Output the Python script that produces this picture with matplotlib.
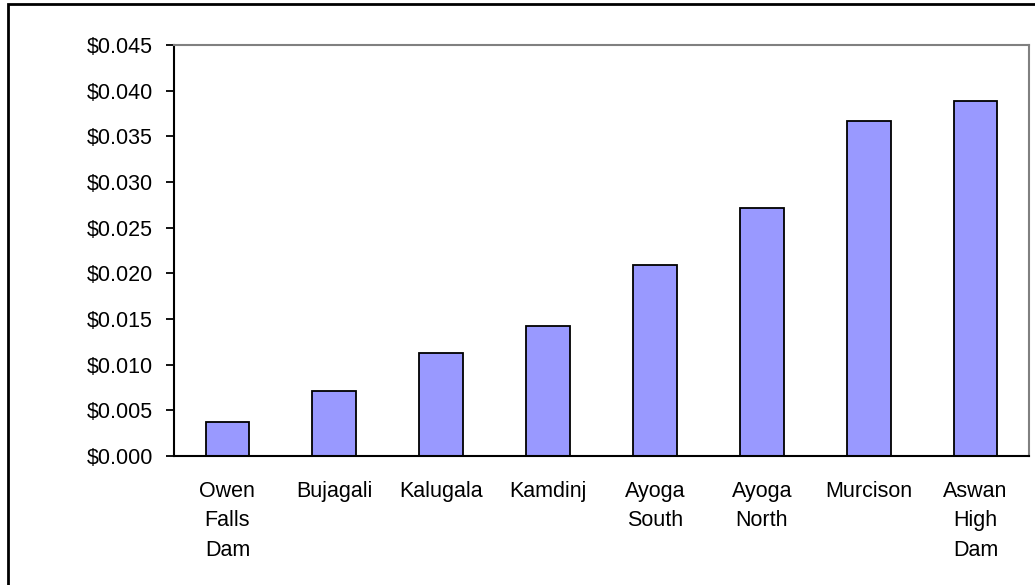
import matplotlib.pyplot as plt
import matplotlib.patches as patches
import numpy as np

plt.rcParams['font.family'] = ['Liberation Sans', 'DejaVu Sans']

# cost per kWh by dam site
sites = ['Owen\nFalls\nDam', 'Bujagali', 'Kalugala', 'Kamdinj', 'Ayoga\nSouth',
         'Ayoga\nNorth', 'Murcison', 'Aswan\nHigh\nDam']
cost = [0.00376, 0.00712, 0.01128, 0.01423, 0.02091, 0.02715, 0.03668, 0.03887]
yticks = np.arange(0, 0.0451, 0.005)

W, H = 1035, 585
fig = plt.figure(figsize=(W / 100, H / 100), dpi=100)
ax = fig.add_axes([174 / W, (H - 456) / H, (1029 - 174) / W, (456 - 45) / H])

x = np.arange(len(sites))
ax.bar(x, cost, width=0.41, color='#9999FF', edgecolor='black', linewidth=1.3)

ax.set_xlim(-0.5, len(sites) - 0.5)
ax.set_ylim(0, 0.045)
ax.set_yticks(yticks)
ax.set_yticklabels([f'${v:.3f}' for v in yticks], fontsize=15.5)
ax.set_xticks(x)
ax.set_xticklabels(sites, fontsize=15.5, linespacing=1.52, va='top')

ax.tick_params(axis='y', length=6, width=1.3, pad=9, direction='out')
ax.tick_params(axis='x', length=0, pad=18)

for s in ['left', 'bottom']:
    ax.spines[s].set_color('black')
    ax.spines[s].set_linewidth(1.5)
for s in ['top', 'right']:
    ax.spines[s].set_color('#808080')
    ax.spines[s].set_linewidth(1.5)

# outer frame around the chart area
fig.patches.append(patches.Rectangle((8 / W, -0.05), 1.1, (H - 4) / H + 0.05,
                                     transform=fig.transFigure, fill=False,
                                     edgecolor='black', linewidth=2))

fig.savefig('out.png', dpi=100)
